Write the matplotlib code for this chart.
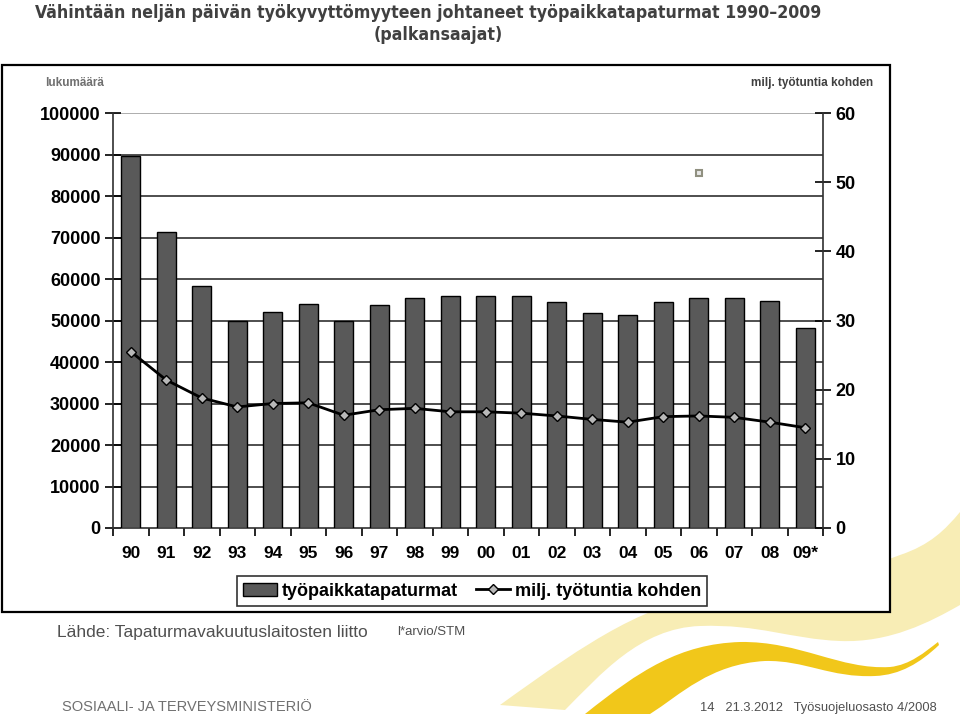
import matplotlib
matplotlib.use("Agg")
import matplotlib.pyplot as plt
from matplotlib.patches import Rectangle, PathPatch
from matplotlib.path import Path
from matplotlib import font_manager
import numpy as np

# --- fontit: kapea fontti jos löytyy ---
fontit = font_manager.fontManager.ttflist
nimet = {f.name for f in fontit}
if "Liberation Sans Narrow" in nimet:
    KAPEA = {"family": "Liberation Sans Narrow"}
    OTS_KOKO = 16.5
elif any(f.name == "DejaVu Sans" and f.stretch == "condensed" for f in fontit):
    KAPEA = {"family": "DejaVu Sans", "fontstretch": "condensed"}
    OTS_KOKO = 12.7
else:
    KAPEA = {"family": "Liberation Sans"}
    OTS_KOKO = 13
plt.rcParams["font.family"] = ["Liberation Sans", "DejaVu Sans"]

# --- data ---
vuodet = ["90", "91", "92", "93", "94", "95", "96", "97", "98", "99",
          "00", "01", "02", "03", "04", "05", "06", "07", "08", "09*"]
tapaturmat = [89700, 71300, 58300, 49800, 52100, 53900, 50000, 53700, 55500, 55800,
              56000, 55800, 54400, 51800, 51300, 54400, 55500, 55500, 54600, 48100]
per_milj = [25.5, 21.4, 18.8, 17.5, 18.0, 18.1, 16.3, 17.1, 17.3, 16.8,
            16.8, 16.6, 16.2, 15.7, 15.3, 16.1, 16.2, 16.0, 15.3, 14.5]
# irrallinen merkki kuvassa (vuoden 06 kohdalla)
haja_x = [16]
haja_y = [51.3]

W, H = 960, 719
fig = plt.figure(figsize=(W / 100, H / 100), dpi=100)

# --- taustan keltaiset kaaret ---
bg = fig.add_axes([0, 0, 1, 1], zorder=-5)
bg.set_xlim(0, W)
bg.set_ylim(H, 0)
bg.axis("off")

C3 = Path.CURVE4
vaalea = Path(
    [(500, 705), (590, 640), (650, 600), (720, 595),
     (800, 590), (860, 570), (900, 555),
     (930, 545), (945, 530), (960, 512),
     (960, 605),
     (930, 622), (890, 643), (840, 641),
     (790, 639), (760, 624), (700, 626),
     (640, 628), (600, 675), (565, 710),
     (500, 705)],
    [Path.MOVETO, C3, C3, C3, C3, C3, C3, C3, C3, C3,
     Path.LINETO, C3, C3, C3, C3, C3, C3, C3, C3, C3, Path.CLOSEPOLY])
bg.add_patch(PathPatch(vaalea, facecolor="#F8EDB5", edgecolor="none"))

kulta = Path(
    [(585, 714), (640, 670), (680, 644), (740, 642),
     (800, 641), (840, 670), (890, 667),
     (910, 665), (925, 652), (938, 642),
     (939, 645),
     (920, 663), (900, 675), (875, 676),
     (830, 678), (805, 660), (765, 661),
     (710, 664), (680, 695), (650, 714),
     (585, 714)],
    [Path.MOVETO, C3, C3, C3, C3, C3, C3, C3, C3, C3,
     Path.LINETO, C3, C3, C3, C3, C3, C3, C3, C3, C3, Path.CLOSEPOLY])
bg.add_patch(PathPatch(kulta, facecolor="#F1C71A", edgecolor="none"))

# kaavion kehys
bg.add_patch(Rectangle((2, 65), 888, 547, facecolor="white",
                       edgecolor="black", linewidth=1.6, zorder=2))

# --- otsikko ja tekstit ---
fig.text(428 / W, 1 - 13 / H, "Vähintään neljän päivän työkyvyttömyyteen johtaneet työpaikkatapaturmat 1990–2009",
         ha="center", va="center", fontsize=OTS_KOKO, fontweight="bold", color="#404040", **KAPEA)
fig.text(438 / W, 1 - 35 / H, "(palkansaajat)", ha="center", va="center",
         fontsize=OTS_KOKO, fontweight="bold", color="#404040", **KAPEA)
fig.text(75 / W, 1 - 83 / H, "lukumäärä", ha="center", va="center",
         fontsize=8.5, fontweight="bold", color="#707070")
fig.text(873 / W, 1 - 83 / H, "milj. työtuntia kohden", ha="right", va="center",
         fontsize=8.5, fontweight="bold", color="#404040")
fig.text(57 / W, 1 - 633 / H, "Lähde: Tapaturmavakuutuslaitosten liitto", ha="left", va="center",
         fontsize=12.5, color="#505050")
fig.text(397 / W, 1 - 632 / H, "l*arvio/STM", ha="left", va="center",
         fontsize=9.5, color="#505050")
fig.text(62 / W, 1 - 707 / H, "SOSIAALI- JA TERVEYSMINISTERIÖ", ha="left", va="center",
         fontsize=10.5, color="#707070")
fig.text(937 / W, 1 - 708 / H, "14   21.3.2012   Työsuojeluosasto 4/2008", ha="right", va="center",
         fontsize=9.3, color="#505050")

# --- kaavio ---
ax = fig.add_axes([113 / W, 1 - 528 / H, (823 - 113) / W, (528 - 113) / H], zorder=3)
ax.patch.set_alpha(0)
x = np.arange(len(vuodet))
ax.bar(x, tapaturmat, width=0.53, color="#595959", edgecolor="black", linewidth=1.0,
       zorder=3, label="työpaikkatapaturmat")
ax.set_xlim(-0.5, len(vuodet) - 0.5)
ax.set_ylim(0, 100000)
ax.set_yticks(np.arange(0, 100001, 10000))
for v in range(10000, 100000, 10000):
    ax.axhline(v, color="#303030", linewidth=1.2, zorder=1)
ax.axhline(100000, color="#A0A0A0", linewidth=1.2, zorder=1)
ax.set_xticks(x)
ax.set_xticklabels(vuodet)
ax.set_xticks(np.arange(-0.5, len(vuodet), 1.0), minor=True)
ax.tick_params(axis="x", which="major", length=0, pad=13, labelsize=12.5)
ax.tick_params(axis="x", which="minor", length=6, direction="out", width=1.2)
ax.tick_params(axis="y", direction="inout", length=12, width=1.2, labelsize=13, pad=3)
for t in ax.get_xticklabels() + ax.get_yticklabels():
    t.set_fontweight("bold")
for s in ["top", "right"]:
    ax.spines[s].set_visible(False)
for s in ["left", "bottom"]:
    ax.spines[s].set_linewidth(1.2)
    ax.spines[s].set_color("#303030")

ax2 = ax.twinx()
ax2.set_zorder(4)
ax2.plot(x, per_milj, color="black", linewidth=2, marker="D", markersize=5.5,
         markerfacecolor="#B8B8B8", markeredgecolor="black", markeredgewidth=1.0,
         label="milj. työtuntia kohden")
ax2.plot(haja_x, haja_y, linestyle="none", marker="s", markersize=5,
         markerfacecolor="#E8E8E8", markeredgecolor="#909080", markeredgewidth=1.5)
ax2.set_ylim(0, 60)
ax2.set_yticks(np.arange(0, 61, 10))
ax2.tick_params(axis="y", direction="inout", length=12, width=1.2, labelsize=13, pad=3)
for t in ax2.get_yticklabels():
    t.set_fontweight("bold")
for s in ["top", "left", "bottom"]:
    ax2.spines[s].set_visible(False)
ax2.spines["right"].set_linewidth(1.2)
ax2.spines["right"].set_color("#303030")

# --- selite ---
h1, l1 = ax.get_legend_handles_labels()
h2, l2 = ax2.get_legend_handles_labels()
leg = fig.legend(h1 + h2[:1], l1 + l2[:1], loc="center", ncol=2,
                 bbox_to_anchor=(472 / W, 1 - 591 / H), frameon=True, fancybox=False,
                 edgecolor="black", handlelength=1.9, handletextpad=0.25, columnspacing=1.0,
                 borderpad=0.35, borderaxespad=0, prop={"weight": "bold", "size": 13})
leg.get_frame().set_linewidth(1.2)
leg.set_zorder(6)

plt.savefig("out.png", dpi=100)
plt.close()
